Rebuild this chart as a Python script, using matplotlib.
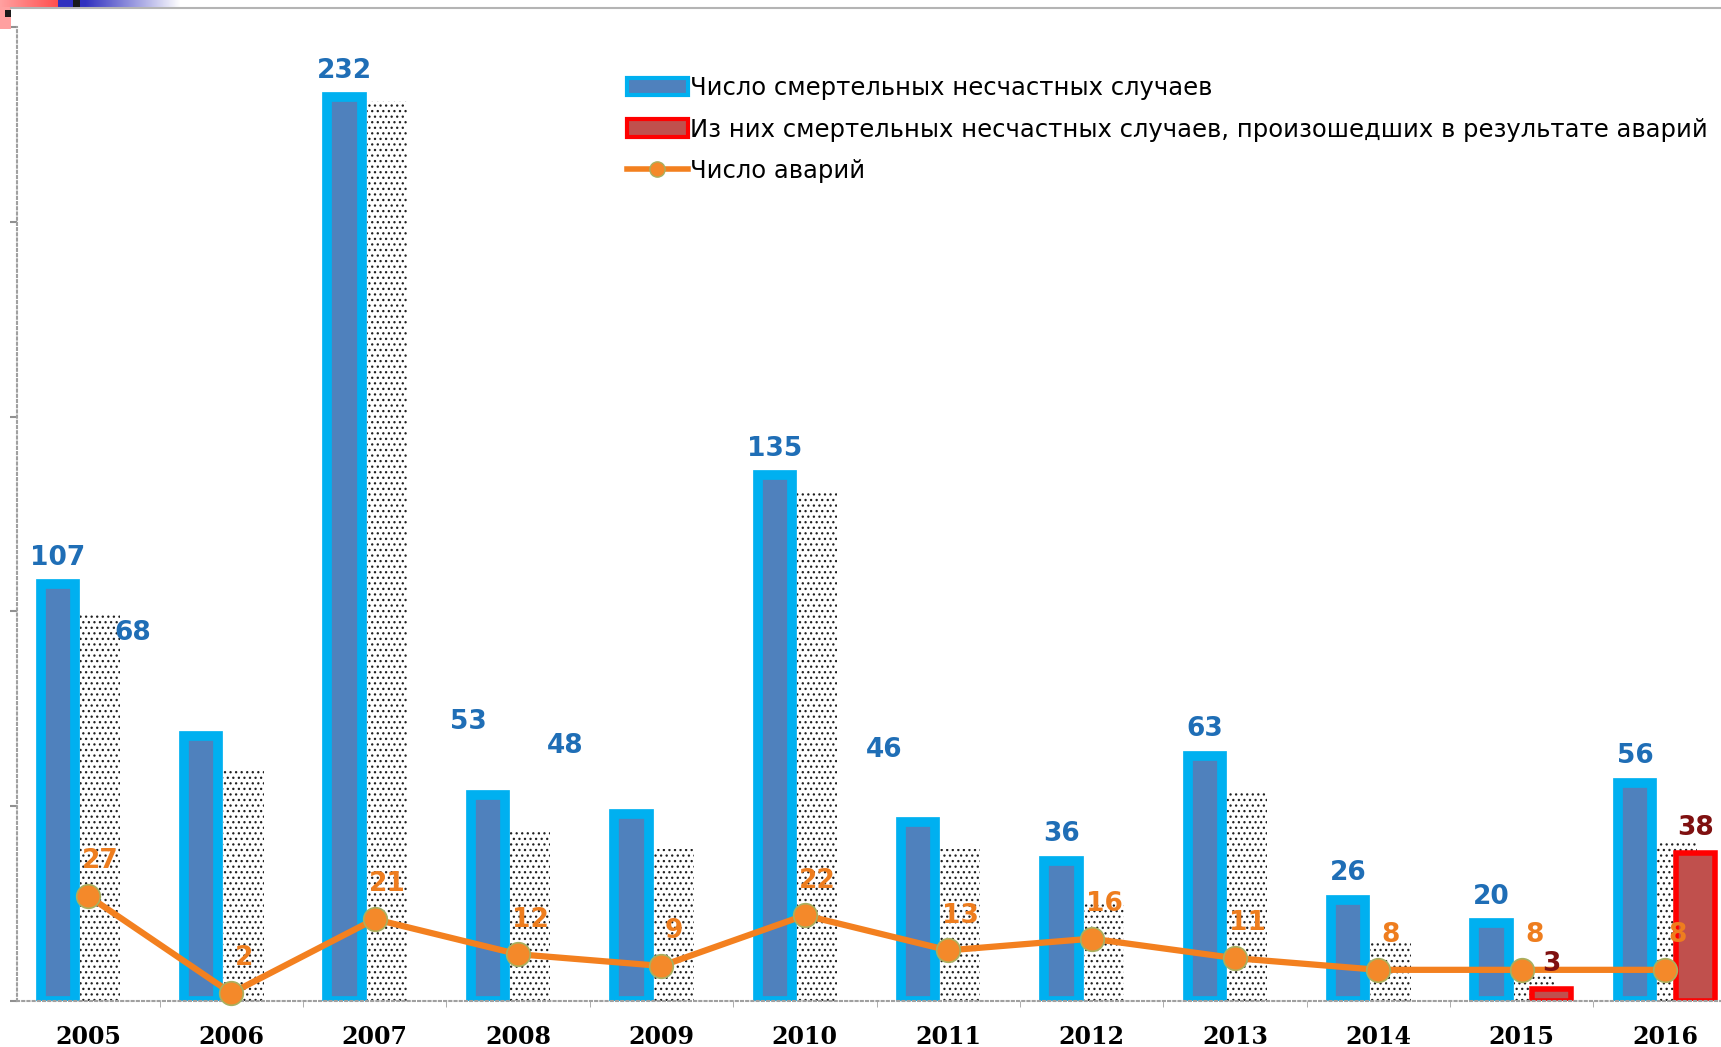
import numpy as np
import matplotlib
matplotlib.use('Agg')
import matplotlib.pyplot as plt
from matplotlib.patches import Patch, Rectangle
from matplotlib.lines import Line2D

# data
years = ['2005', '2006', '2007', '2008', '2009', '2010',
         '2011', '2012', '2013', '2014', '2015', '2016']
deaths = [107, 68, 232, 53, 48, 135, 46, 36, 63, 26, 20, 56]
deaths_accidents = [None, None, None, None, None, None,
                    None, None, None, None, 3, 38]
accidents = [27, 2, 21, 12, 9, 22, 13, 16, 11, 8, 8, 8]
# dotted "shadow" bars left over in the slide picture
shadow = [99, 59, 231, 44, 39, 131, 39, 25, 54, 15, 7, 41]

legend_labels = ['Число смертельных несчастных случаев',
                 'Из них смертельных несчастных случаев, произошедших в результате аварий',
                 'Число аварий']

# colours
blue_fill = '#4F81BD'
blue_edge = '#00B0F0'
red_fill = '#C0504D'
red_edge = '#FF0000'
orange = '#F3801F'
blue_txt = '#1F6EB6'
orange_txt = '#EE7D1E'
red_txt = '#7F1010'

plt.rcParams['hatch.linewidth'] = 0.9
plt.rcParams['hatch.color'] = '#202020'

W, H = 1721, 1047
fig = plt.figure(figsize=(W / 100, H / 100), dpi=100)
ax = fig.add_axes([17 / W, 1 - 1001 / H, (W - 17) / W, (1001 - 27) / H])

x = np.arange(len(years))
bw = 0.24

# shadow bars behind everything
ax.bar(x + 0.085, shadow, 0.28, facecolor='none', edgecolor='#202020',
       linewidth=0, hatch='...', zorder=1)

ax.bar(x - 0.21, deaths, bw, facecolor=blue_fill, edgecolor=blue_edge,
       linewidth=7, zorder=2)

red_vals = [np.nan if v is None else v for v in deaths_accidents]
ax.bar(x + 0.21, red_vals, 0.27, facecolor=red_fill, edgecolor=red_edge,
       linewidth=4, zorder=2)

ax.plot(x, accidents, color=orange, lw=4.5, marker='o', markersize=17,
        markerfacecolor='#F4892A', markeredgecolor='#A8B060',
        markeredgewidth=1.2, zorder=4, clip_on=False)

# blue value labels (some sit away from their bars on the slide)
label_moves = {1: (0.31, 94.5), 3: (2.65, 71.5), 4: (3.33, 65.5), 6: (5.55, 64.5)}
for i, v in enumerate(deaths):
    if i in label_moves:
        ax.text(*label_moves[i], str(v), ha='center', va='center',
                color=blue_txt, fontsize=19, fontweight='bold', zorder=5)
    else:
        ax.annotate(str(v), (i - 0.21, v), xytext=(0, 19),
                    textcoords='offset points', ha='center', va='center',
                    color=blue_txt, fontsize=19, fontweight='bold', zorder=5)

for i, v in enumerate(accidents):
    ax.annotate(str(v), (i, v), xytext=(9, 25), textcoords='offset points',
                ha='center', va='center', color=orange_txt, fontsize=19,
                fontweight='bold', zorder=5)

for i, v in enumerate(deaths_accidents):
    if v is not None:
        ax.annotate(str(v), (i + 0.21, v), xytext=(0, 18),
                    textcoords='offset points', ha='center', va='center',
                    color=red_txt, fontsize=19, fontweight='bold', zorder=5)

ax.set_xlim(-0.495, 11.39)
ax.set_ylim(0, 250)
ax.set_xticks(x)
ax.set_xticklabels(years, fontsize=17, fontweight='bold', family='DejaVu Serif')
ax.set_xticks(x[:-1] + 0.5, minor=True)
ax.tick_params(axis='x', which='major', length=0, pad=17)
ax.tick_params(axis='x', which='minor', length=4, color='#A0A0A0', direction='out')
ax.set_yticks(np.arange(0, 251, 50))
ax.set_yticklabels([])
ax.tick_params(axis='y', length=5, color='#909090', width=1.5)
for s in ['top', 'right']:
    ax.spines[s].set_visible(False)
for s in ['left', 'bottom']:
    ax.spines[s].set_color('#A0A0A0')
    ax.spines[s].set_linestyle((0, (1, 1.5)))
    ax.spines[s].set_linewidth(1.5)

handles = [Patch(facecolor=blue_fill, edgecolor=blue_edge, linewidth=3),
           Patch(facecolor=red_fill, edgecolor=red_edge, linewidth=3),
           Line2D([], [], color=orange, lw=4, marker='o', markersize=11,
                  markerfacecolor='#F4892A', markeredgecolor='#A8B060')]
fig.legend(handles, legend_labels, loc='upper left',
           bbox_to_anchor=(627 / W, 1 - 76 / H), frameon=False, fontsize=17.5,
           labelspacing=0.72, handlelength=2.5, handletextpad=0.08,
           borderpad=0, borderaxespad=0)

# slide decoration at the top-left corner
grad = np.ones((1, 180, 3))
for c in range(180):
    if c < 58:
        t = c / 57
        grad[0, c] = [1.0, 0.63 - 0.32 * t, 0.63 - 0.32 * t]
    else:
        t = min(1.0, max(0.0, (c - 85) / 95))
        grad[0, c] = [0.19 + 0.81 * t, 0.19 + 0.81 * t, 0.75 + 0.25 * t]
dec = fig.add_axes([0, 1 - 7 / H, 180 / W, 7 / H])
dec.imshow(grad, aspect='auto', interpolation='bilinear')
dec.axis('off')
fig.add_artist(Rectangle((0, 1 - 29 / H), 11 / W, 22 / H, facecolor='#FFA0A0',
                         edgecolor='none', transform=fig.transFigure))
fig.add_artist(Rectangle((5 / W, 1 - 17 / H), 6 / W, 7 / H, facecolor='#1A1A1A',
                         edgecolor='none', transform=fig.transFigure))
fig.add_artist(Rectangle((73 / W, 1 - 7 / H), 7 / W, 7 / H, facecolor='#1A1A1A',
                         edgecolor='none', transform=fig.transFigure, zorder=5))
fig.add_artist(Line2D([11 / W, 1], [1 - 7.5 / H, 1 - 7.5 / H], color='#B4B4B4',
                      lw=1.5, transform=fig.transFigure))

fig.savefig('out.png', dpi=100)
